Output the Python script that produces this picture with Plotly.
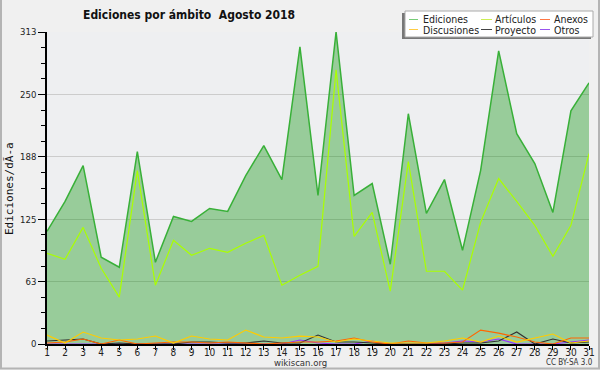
import plotly.graph_objects as go

days = list(range(1, 32))
ediciones = [113, 143, 179, 87, 77, 193, 82, 128, 123, 136, 133, 169, 199, 165, 298, 149,
             313, 149, 161, 80, 231, 131, 165, 94, 174, 294, 211, 181, 132, 234, 262]
articulos = [91, 85, 117, 76, 47, 174, 59, 104, 89, 96, 92, 101, 109, 59, 69, 78,
             275, 108, 132, 53, 183, 73, 73, 54, 122, 166, 143, 119, 88, 119, 191]
discusiones = [9, 1, 12, 6, 4, 5, 8, 1, 8, 5, 4, 14, 7, 6, 8, 7,
               2, 5, 3, 1, 1, 1, 3, 6, 2, 8, 2, 6, 10, 1, 3]
anexos = [1, 2, 5, 0, 4, 0, 1, 2, 2, 1, 2, 1, 0, 1, 2, 2,
          3, 6, 2, 0, 3, 1, 1, 2, 14, 11, 7, 2, 0, 6, 6]
proyecto = [3, 4, 5, 0, 1, 0, 0, 0, 2, 2, 1, 1, 3, 1, 1, 9,
            2, 2, 1, 0, 0, 0, 0, 1, 1, 3, 12, 0, 5, 1, 2]
otros = [0, 0, 0, 0, 0, 0, 0, 0, 0, 0, 0, 0, 0, 0, 4, 1,
         0, 0, 3, 0, 0, 0, 1, 3, 2, 5, 0, 0, 0, 2, 4]

y_max = 313
major_vals = [0, 62.6, 125.2, 187.8, 250.4, 313]
major_text = ["0", "63", "125", "188", "250", "313"]
minor_vals = [i * y_max / 20 for i in range(21) if i % 4 != 0]

title_text = "Ediciones por ámbito  Agosto 2018"
ytitle_text = "Ediciones/dÃ-a"
legend_rows = [["Ediciones", "Artículos", "Anexos"], ["Discusiones", "Proyecto", "Otros"]]

C_ED = "#38b038"
C_ART = "#aaff00"
C_DIS = "#ffcc00"
C_ANX = "#ff6600"
C_PRO = "#333333"
C_OTR = "#9933ff"

L, R, T, B = 47, 11, 32, 26
W = 600 - L - R
H = 370 - T - B
BOT = 370 - B


def px(x):
    return (x - L) / W


def py(y):
    return (BOT - y) / H


fig = go.Figure()
fig.add_trace(go.Scatter(x=days, y=ediciones, mode="lines", fill="tozeroy",
                         fillcolor="rgba(0,140,0,0.36)", line=dict(color=C_ED, width=1.5),
                         name="Ediciones", showlegend=False))
fig.add_trace(go.Scatter(x=days, y=articulos, mode="lines", line=dict(color=C_ART, width=1.2),
                         name="Artículos", showlegend=False))
fig.add_trace(go.Scatter(x=days, y=otros, mode="lines", line=dict(color=C_OTR, width=1.2),
                         name="Otros", showlegend=False))
fig.add_trace(go.Scatter(x=days, y=proyecto, mode="lines", line=dict(color=C_PRO, width=1.2),
                         name="Proyecto", showlegend=False))
fig.add_trace(go.Scatter(x=days, y=anexos, mode="lines", line=dict(color=C_ANX, width=1.2),
                         name="Anexos", showlegend=False))
fig.add_trace(go.Scatter(x=days, y=discusiones, mode="lines", line=dict(color=C_DIS, width=1.2),
                         name="Discusiones", showlegend=False))

narrow = "Liberation Sans Narrow, DejaVu Sans Condensed, Liberation Sans, sans-serif"
cond = "DejaVu Sans Condensed, Liberation Sans Narrow, DejaVu Sans, sans-serif"

fig.update_layout(
    width=600, height=370,
    margin=dict(l=L, r=R, t=T, b=B, autoexpand=False),
    paper_bgcolor="#f0f0f0",
    plot_bgcolor="#eeeff1",
    showlegend=False,
    xaxis=dict(range=[1, 31], tickmode="array", tickvals=days, ticktext=[str(d) for d in days],
               automargin=False, ticklabelstandoff=-6,
               showgrid=False, zeroline=False, showline=True, linecolor="black", linewidth=1.5,
               ticks="outside", ticklen=4, tickcolor="black", tickwidth=1,
               tickfont=dict(family=narrow, size=10, color="#222")),
    yaxis=dict(range=[0, y_max], tickmode="array", tickvals=major_vals, ticktext=major_text,
               automargin=False,
               showgrid=True, gridcolor="#cccccc", gridwidth=1, zeroline=False,
               showline=True, linecolor="black", linewidth=1.5,
               ticks="outside", ticklen=7, tickcolor="black", tickwidth=1,
               tickfont=dict(family=narrow, size=9.5, color="#222"),
               minor=dict(tickvals=minor_vals, ticks="outside", ticklen=4, tickcolor="black",
                          showgrid=False)),
)

ann = []
ann.append(dict(text="<b>" + title_text + "</b>", x=px(189), y=py(15), xref="paper", yref="paper",
                showarrow=False, xanchor="center", yanchor="middle",
                font=dict(family=cond, size=12, color="#111")))
ann.append(dict(text=ytitle_text, x=px(9), y=py(189), xref="paper", yref="paper", textangle=-90,
                showarrow=False, xanchor="center", yanchor="middle",
                font=dict(family="DejaVu Sans Mono, monospace", size=11, color="#111")))
ann.append(dict(text="wikiscan.org", x=px(300), y=py(362.5), xref="paper", yref="paper",
                showarrow=False, xanchor="center", yanchor="middle", borderpad=0,
                font=dict(family=narrow, size=9.5, color="#333")))
ann.append(dict(text="CC BY-SA 3.0", x=px(569), y=py(362.5), xref="paper", yref="paper",
                showarrow=False, xanchor="center", yanchor="middle", borderpad=0,
                font=dict(family=narrow, size=8, color="#333")))

shapes = []
# image frame
shapes.append(dict(type="line", xref="paper", yref="paper", x0=px(1), x1=px(1), y0=py(0), y1=py(369),
                   line=dict(color="#b4b4b4", width=2)))
shapes.append(dict(type="line", xref="paper", yref="paper", x0=px(599), x1=px(599), y0=py(0), y1=py(369),
                   line=dict(color="#b4b4b4", width=2)))
shapes.append(dict(type="line", xref="paper", yref="paper", x0=px(0), x1=px(600), y0=py(368.5), y1=py(368.5),
                   line=dict(color="#b4b4b4", width=2)))
# legend box with shadow
shapes.append(dict(type="rect", xref="paper", yref="paper", x0=px(402), x1=px(591), y0=py(39), y1=py(13),
                   line=dict(width=0), fillcolor="#777777"))
shapes.append(dict(type="rect", xref="paper", yref="paper", x0=px(405), x1=px(593), y0=py(37), y1=py(11),
                   line=dict(color="#aaaaaa", width=1), fillcolor="white"))

leg_colors = [["#77cc77", "#ccee55", "#ff7744"], ["#ffcc44", "#444444", "#9955ee"]]
col_line_x = [(409, 418), (481, 492), (540, 550)]
col_text_x = [424, 496, 555]
row_y = [19.5, 29.5]
for r in range(2):
    for c in range(3):
        x0, x1 = col_line_x[c]
        shapes.append(dict(type="line", xref="paper", yref="paper", x0=px(x0), x1=px(x1),
                           y0=py(row_y[r]), y1=py(row_y[r]),
                           line=dict(color=leg_colors[r][c], width=1)))
        ann.append(dict(text=legend_rows[r][c], x=px(col_text_x[c]), y=py(row_y[r]),
                        xref="paper", yref="paper", showarrow=False, xanchor="left",
                        yanchor="middle", xshift=-2, borderpad=0,
                        font=dict(family=cond, size=10.5, color="#222")))

fig.update_layout(annotations=ann, shapes=shapes)
fig.write_html("out.html", config={"displayModeBar": False},
               post_script="document.documentElement.style.overflow='hidden';"
                           "document.body.style.margin='0';document.body.style.overflow='hidden';")
